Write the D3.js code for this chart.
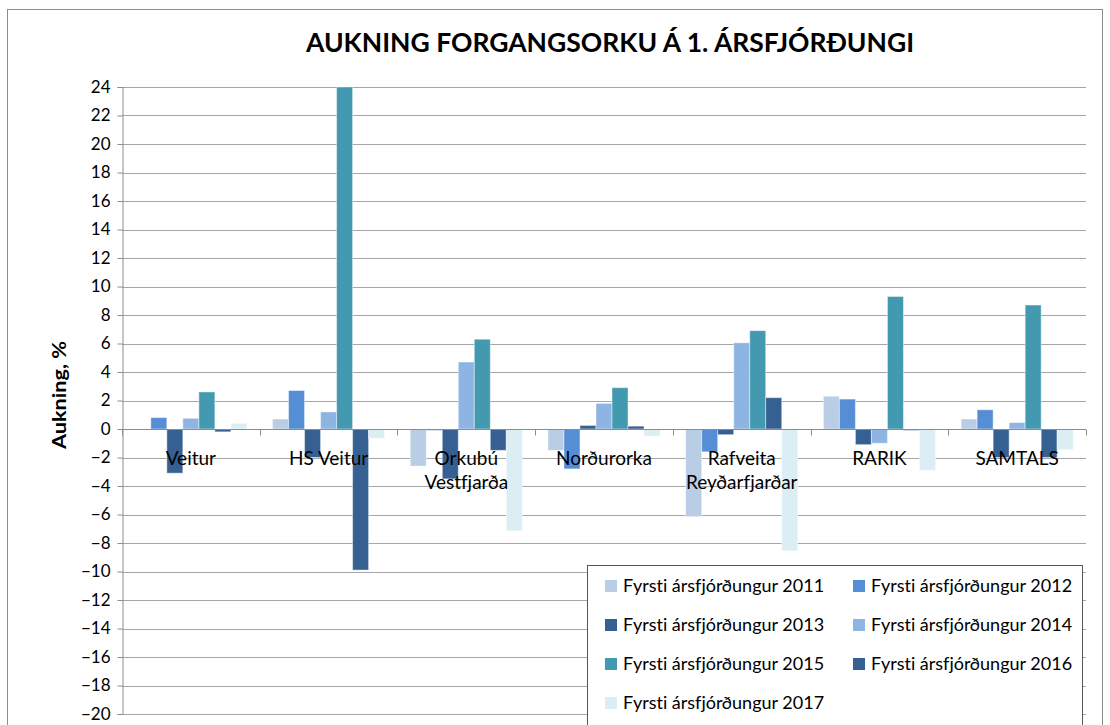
<!DOCTYPE html>
<html>
<head>
<meta charset="utf-8">
<style>
  body { margin: 0; background: #fff; }
  text { font-family: Lato, "Open Sans", sans-serif; font-variant-ligatures: none; font-feature-settings: "liga" 0; }
</style>
</head>
<body>
<svg width="1110" height="725"></svg>
<script src="https://d3js.org/d3.v7.min.js"></script>
<script>

// data
var categories = ["Veitur", "HS Veitur", "Orkubú Vestfjarða", "Norðurorka", "Rafveita Reyðarfjarðar", "RARIK", "SAMTALS"];
var catLines = [["Veitur"], ["HS Veitur"], ["Orkubú", "Vestfjarða"], ["Norðurorka"], ["Rafveita", "Reyðarfjarðar"], ["RARIK"], ["SAMTALS"]];
var years = ["2011", "2012", "2013", "2014", "2015", "2016", "2017"];
var seriesNames = years.map(function(y) { return "Fyrsti ársfjórðungur " + y; });

var v2011 = [0, 0.7, -2.6, -1.5, -6.15, 2.3, 0.7];
var v2012 = [0.8, 2.7, -0.1, -2.8, -1.6, 2.1, 1.35];
var v2013 = [-3.1, -2.0, -3.5, 0.25, -0.4, -1.1, -2.0];
var v2014 = [0.75, 1.2, 4.7, 1.8, 6.05, -1.0, 0.45];
var v2015 = [2.6, 24, 6.3, 2.9, 6.9, 9.3, 8.7];
var v2016 = [-0.2, -9.9, -1.5, 0.2, 2.2, -0.1, -2.0];
var v2017 = [0.4, -0.65, -7.15, -0.5, -8.55, -2.9, -1.45];
var values = [v2011, v2012, v2013, v2014, v2015, v2016, v2017];

var yTicks = d3.range(-20, 25, 2);

var colors = ["#b9cde5", "#558ed5", "#366092", "#8eb4e3", "#4299b0", "#376092", "#dbeef4"];

var svg = d3.select("svg");

// outer frame
svg.append("rect")
  .attr("x", 7.5).attr("y", 9.5)
  .attr("width", 1095).attr("height", 730)
  .attr("fill", "none").attr("stroke", "#8c8c8c");

var x = d3.scaleBand().domain(categories).range([122, 1086]).paddingInner(0).paddingOuter(0);
var xs = d3.scaleBand().domain(years).range([0, x.bandwidth()]).paddingInner(0).paddingOuter(0.8);
var y = d3.scaleLinear().domain([-20, 24]).range([714, 87]);

var z = d3.scaleOrdinal().domain(years).range(colors);

// title
svg.append("text")
  .attr("x", 610).attr("y", 52)
  .attr("text-anchor", "middle")
  .attr("font-size", 26)
  .attr("font-weight", "bold")
  .attr("textLength", 608)
  .attr("lengthAdjust", "spacingAndGlyphs")
  .attr("fill", "#000")
  .text("AUKNING FORGANGSORKU Á 1. ÁRSFJÓRÐUNGI");

// gridlines
svg.append("g")
  .selectAll("line")
  .data(yTicks)
  .enter().append("line")
  .attr("x1", 122).attr("x2", 1086)
  .attr("y1", function(d) { return Math.round(y(d)) + 0.5; })
  .attr("y2", function(d) { return Math.round(y(d)) + 0.5; })
  .attr("stroke", "#a6a6a6")
  .attr("stroke-width", 1.2);

// y axis
var yAxis = svg.append("g")
  .attr("transform", "translate(122.5,0)")
  .call(d3.axisLeft(y).tickValues(yTicks).tickSize(5).tickPadding(7));
yAxis.select(".domain").attr("stroke", "#8c8c8c");
yAxis.selectAll(".tick line").attr("stroke", "#8c8c8c");
yAxis.selectAll(".tick text")
  .attr("font-family", "Lato, sans-serif")
  .attr("font-size", 17)
  .attr("fill", "#000");

svg.append("text")
  .attr("transform", "translate(66,395) rotate(-90)")
  .attr("text-anchor", "middle")
  .attr("font-size", 18)
  .attr("font-weight", "bold")
  .attr("textLength", 108)
  .attr("lengthAdjust", "spacingAndGlyphs")
  .text("Aukning, %");

// bars
svg.append("g")
  .selectAll("g")
  .data(years)
  .enter().append("g")
  .attr("fill", function(d) { return z(d); })
  .selectAll("rect")
  .data(function(yr, i) {
    return categories.map(function(c, j) { return { cat: c, year: yr, value: values[i][j] }; });
  })
  .enter().append("rect")
  .attr("x", function(d) { return x(d.cat) + xs(d.year); })
  .attr("y", function(d) { return y(Math.max(0, d.value)); })
  .attr("width", xs.bandwidth())
  .attr("height", function(d) { return Math.abs(y(d.value) - y(0)); })
  .attr("stroke", "rgba(255,255,255,0.45)")
  .attr("stroke-width", 1);

// zero axis with category ticks
var zeroY = Math.round(y(0)) + 0.5;
svg.append("line")
  .attr("x1", 122).attr("x2", 1086)
  .attr("y1", zeroY).attr("y2", zeroY)
  .attr("stroke", "#8c8c8c");
svg.append("g")
  .selectAll("line")
  .data(categories.concat(["end"]))
  .enter().append("line")
  .attr("x1", function(d, i) { return Math.round(122 + i * x.step()) + 0.5; })
  .attr("x2", function(d, i) { return Math.round(122 + i * x.step()) + 0.5; })
  .attr("y1", zeroY).attr("y2", zeroY + 6)
  .attr("stroke", "#8c8c8c");

// category labels
var labels = svg.append("g")
  .selectAll("text")
  .data(categories)
  .enter().append("text")
  .attr("text-anchor", "middle")
  .attr("font-size", 19)
  .attr("fill", "#000")
  .attr("x", function(d) { return x(d) + x.bandwidth() / 2; })
  .attr("y", 465);
labels.selectAll("tspan")
  .data(function(d, i) { return catLines[i]; })
  .enter().append("tspan")
  .attr("x", function() { return d3.select(this.parentNode).attr("x"); })
  .attr("dy", function(d, i) { return i === 0 ? 0 : 24; })
  .text(function(d) { return d; });

// legend
var legend = svg.append("g");
legend.append("rect")
  .attr("x", 587.5).attr("y", 565.5)
  .attr("width", 495).attr("height", 200)
  .attr("fill", "#fff")
  .attr("stroke", "#555");

var item = legend.selectAll("g")
  .data(seriesNames)
  .enter().append("g")
  .attr("transform", function(d, i) {
    return "translate(" + (i % 2 === 0 ? 605 : 853) + "," + (586 + Math.floor(i / 2) * 39) + ")";
  });
item.append("rect")
  .attr("x", 0).attr("y", -6)
  .attr("width", 12).attr("height", 12)
  .attr("fill", function(d, i) { return colors[i]; });
item.append("text")
  .attr("x", 18)
  .attr("dy", "0.35em")
  .attr("font-size", 18)
  .attr("fill", "#000")
  .text(function(d) { return d; });

</script>
</body>
</html>
